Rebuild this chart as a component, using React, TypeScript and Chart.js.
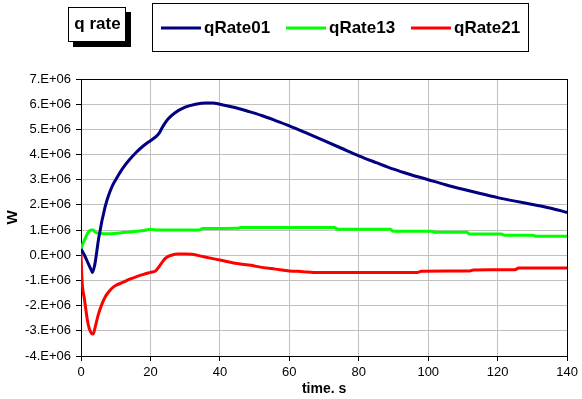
import React, { useEffect, useRef } from 'react';
import Chart from 'chart.js/auto';

// time, s
const rate01Time = [0, 1, 2, 3, 3.3, 4, 4.5, 5, 5.5, 6, 6.5, 7, 8, 9, 10, 12, 14, 16, 18, 20, 21.5, 22.5, 23.5, 25, 27, 30, 33, 36, 38, 40, 44, 48, 52, 56, 60, 65, 70, 75, 80, 85, 90, 95, 100, 105, 110, 115, 120, 125, 130, 135, 140];
// W, in units of 1E+06
const rate01Value = [0.25, 0.0, -0.3, -0.6, -0.68, -0.35, 0.1, 0.6, 0.97, 1.35, 1.65, 1.95, 2.4, 2.75, 3.0, 3.45, 3.8, 4.1, 4.35, 4.55, 4.7, 4.85, 5.1, 5.4, 5.65, 5.88, 6.0, 6.05, 6.05, 6.0, 5.88, 5.72, 5.55, 5.35, 5.14, 4.85, 4.55, 4.25, 3.95, 3.68, 3.42, 3.2, 3.0, 2.8, 2.62, 2.45, 2.29, 2.15, 2.02, 1.88, 1.7];

const rate13Time = [0, 0.5, 1, 2, 3, 3.5, 4, 5, 6, 8, 10, 12, 14, 16, 18, 20, 22, 24, 30, 34, 35, 45, 46, 73, 74, 89, 90, 101, 102, 111, 112, 121, 122, 130, 131, 140];
const rate13Value = [0.25, 0.45, 0.6, 0.9, 1.0, 1.0, 0.93, 0.87, 0.86, 0.85, 0.87, 0.9, 0.92, 0.95, 0.98, 1.03, 1.0, 1.0, 1.0, 1.0, 1.06, 1.07, 1.1, 1.1, 1.03, 1.03, 0.95, 0.95, 0.91, 0.91, 0.84, 0.84, 0.8, 0.8, 0.76, 0.76];

const rate21Time = [0, 0.3, 1, 2, 3, 3.5, 4, 5, 6, 7, 8, 9, 10, 12, 14, 16, 18, 20, 21.5, 22.5, 23.5, 24.5, 26, 28, 30, 32, 35, 40, 45, 49, 52, 56, 60, 64, 67, 97, 98, 112, 113, 125, 126, 140];
const rate21Value = [0.1, -1.0, -1.75, -2.7, -3.1, -3.13, -2.9, -2.35, -1.95, -1.65, -1.45, -1.3, -1.2, -1.08, -0.95, -0.85, -0.76, -0.68, -0.62, -0.45, -0.25, -0.1, 0.0, 0.05, 0.05, 0.04, -0.05, -0.19, -0.33, -0.4, -0.48, -0.55, -0.62, -0.65, -0.68, -0.68, -0.63, -0.62, -0.58, -0.57, -0.51, -0.51];

const seriesNames = ['qRate01', 'qRate13', 'qRate21'];
const seriesColors = ['#000080', '#00ff00', '#ff0000'];
const chartTitle = 'q rate';
const xTitle = 'time. s';
const yTitle = 'W';
const xMin = 0, xMax = 140, xStep = 20;
const yMin = -4e6, yMax = 7e6, yStep = 1e6;

const toPoints = (t: number[], v: number[]) => t.map((x, i) => ({ x, y: v[i] * 1e6 }));

const FONT = '"Liberation Sans", Arial, sans-serif';

const boxesPlugin = {
  id: 'boxes',
  beforeDatasetsDraw(chart: any) {
    const { ctx, chartArea } = chart;
    const l = Math.round(chartArea.left) + 0.5;
    const t = Math.round(chartArea.top) + 0.5;
    const r = Math.round(chartArea.right) + 0.5;
    const b = Math.round(chartArea.bottom) + 0.5;
    ctx.save();
    ctx.strokeStyle = '#000';
    ctx.lineWidth = 1;
    ctx.strokeRect(l, t, r - l, b - t);
    ctx.restore();
  },
  afterDraw(chart: any) {
    const { ctx } = chart;
    ctx.save();
    // title box with shadow
    ctx.fillStyle = '#000';
    ctx.fillRect(73, 12, 58, 35);
    ctx.fillStyle = '#fff';
    ctx.fillRect(68, 7, 58, 35);
    ctx.strokeStyle = '#000';
    ctx.lineWidth = 1;
    ctx.strokeRect(68.5, 7.5, 57, 34);
    ctx.fillStyle = '#000';
    ctx.font = `bold 17px ${FONT}`;
    ctx.textAlign = 'center';
    ctx.textBaseline = 'middle';
    ctx.fillText(chartTitle, 97.5, 24);

    // legend box
    ctx.fillStyle = '#fff';
    ctx.fillRect(152, 3, 377, 49);
    ctx.strokeStyle = '#000';
    ctx.strokeRect(152.5, 3.5, 376, 48);
    const lineStarts = [161, 286, 411];
    ctx.textAlign = 'left';
    seriesNames.forEach((name, i) => {
      const x0 = lineStarts[i];
      ctx.strokeStyle = seriesColors[i];
      ctx.lineWidth = 3;
      ctx.beginPath();
      ctx.moveTo(x0, 28);
      ctx.lineTo(x0 + 40, 28);
      ctx.stroke();
      ctx.fillStyle = '#000';
      ctx.fillText(name, x0 + 43, 28);
    });
    ctx.restore();
  },
};

export default function App() {
  const ref = useRef<HTMLCanvasElement>(null);
  useEffect(() => {
    const canvas = ref.current!;
    const datasets = [
      toPoints(rate01Time, rate01Value),
      toPoints(rate13Time, rate13Value),
      toPoints(rate21Time, rate21Value),
    ].map((data, i) => ({
      label: seriesNames[i],
      data,
      borderColor: seriesColors[i],
      backgroundColor: seriesColors[i],
      borderWidth: 3,
      pointRadius: 0,
      fill: false,
      cubicInterpolationMode: 'monotone' as const,
    }));
    const chart = new Chart(canvas, {
      type: 'line',
      data: { datasets },
      options: {
        animation: false,
        responsive: false,
        devicePixelRatio: 1,
        layout: { padding: { top: 79, right: 14, left: 0, bottom: 0 } },
        plugins: { legend: { display: false }, title: { display: false }, tooltip: { enabled: false } },
        scales: {
          x: {
            type: 'linear',
            min: xMin,
            max: xMax,
            ticks: { stepSize: xStep, color: '#000', padding: 4, maxRotation: 0, font: { family: FONT, size: 13 } },
            grid: { color: '#c0c0c0', tickColor: '#000', tickLength: 5, lineWidth: 1 },
            border: { display: true, color: '#000' },
            title: { display: true, text: xTitle, color: '#000', font: { family: FONT, size: 14, weight: 'bold' }, padding: { top: 0, bottom: 1 } },
            afterFit: (s: any) => { s.height = 43; },
          },
          y: {
            type: 'linear',
            min: yMin,
            max: yMax,
            ticks: {
              stepSize: yStep,
              color: '#000',
              padding: 5,
              font: { family: FONT, size: 13 },
              callback: (v: any) => (v === 0 ? '0.E+00' : `${Math.round(Number(v) / 1e6)}.E+06`),
            },
            grid: { color: '#c0c0c0', tickColor: '#000', tickLength: 5, lineWidth: 1 },
            border: { display: true, color: '#000' },
            title: { display: true, text: yTitle, color: '#000', font: { family: FONT, size: 15, weight: 'bold' }, padding: { top: 4, bottom: 0 } },
            afterFit: (s: any) => { s.width = 81; },
          },
        },
      },
      plugins: [boxesPlugin],
    });
    return () => chart.destroy();
  }, []);
  return (
    <div style={{ position: 'absolute', left: 0, top: 0, width: 582, height: 399, background: '#fff' }}>
      <canvas ref={ref} width={582} height={399} style={{ display: 'block', width: 582, height: 399 }} />
    </div>
  );
}
